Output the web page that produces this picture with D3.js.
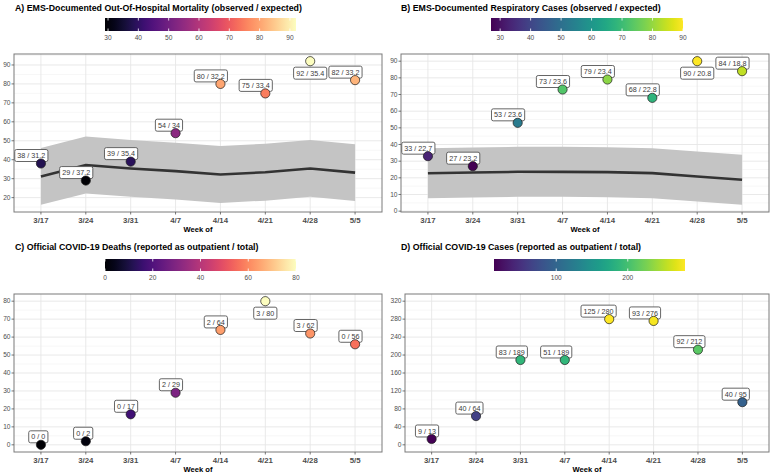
<!DOCTYPE html>
<html><head><meta charset="utf-8">
<script src="https://cdn.jsdelivr.net/npm/d3@7"></script>
<style>
body{margin:0;background:#fff;}
svg{display:block;font-family:"Liberation Sans",Arial,sans-serif;}
</style></head>
<body><svg id="chart" width="772" height="475"></svg>
<script>
const weeks = ["3/17","3/24","3/31","4/7","4/14","4/21","4/28","5/5"];

const mortObserved = [38,29,39,54,80,75,92,82];
const mortExpected = [31.2,37.2,35.4,34,32.2,33.4,35.4,33.2];
const mortLower = [16.2,22.2,20.4,19,17.2,18.4,20.4,18.2];
const mortUpper = [46.2,52.2,50.4,49,47.2,48.4,50.4,48.2];
const mortTicks = [20,30,40,50,60,70,80,90];
const mortLegendTicks = [30,40,50,60,70,80,90];

const respObserved = [33,27,53,73,79,68,90,84];
const respExpected = [22.7,23.2,23.6,23.6,23.4,22.8,20.8,18.8];
const respLower = [7.7,8.2,8.6,8.6,8.4,7.8,5.8,3.8];
const respUpper = [37.7,38.2,38.6,38.6,38.4,37.8,35.8,33.8];
const respTicks = [0,10,20,30,40,50,60,70,80,90];
const respLegendTicks = [30,40,50,60,70,80,90];

const deathsOutpatient = [0,0,0,2,2,3,3,0];
const deathsTotal = [0,2,17,29,64,80,62,56];
const deathsTicks = [0,10,20,30,40,50,60,70,80];
const deathsLegendTicks = [0,20,40,60,80];

const casesOutpatient = [9,40,83,51,125,93,92,40];
const casesTotal = [13,64,189,189,280,276,212,95];
const casesTicks = [0,40,80,120,160,200,240,280,320];
const casesLimits = [0,320];
const casesLegendTicks = [100,200];

const svg = d3.select("#chart");
const defs = svg.append("defs");
let gradId = 0;

function panel(o){
  const g = svg.append("g");
  // title
  g.append("text").attr("x", o.tx).attr("y", o.ty)
    .attr("font-size", 8.8).attr("font-weight", "bold").attr("fill", "#000")
    .text(o.title);

  // colour scale & colourbar
  const cext = d3.extent(o.colorVals);
  const cnorm = d3.scaleLinear().domain(cext).range([0,1]);
  const color = v => o.interp(cnorm(v));
  const id = "grad" + (gradId++);
  const grad = defs.append("linearGradient").attr("id", id);
  d3.range(0, 1.0001, 0.05).forEach(t => grad.append("stop")
    .attr("offset", (t*100)+"%").attr("stop-color", o.interp(t)));
  const cb = o.cb;
  g.append("rect").attr("x", cb.x0).attr("y", cb.y0)
    .attr("width", cb.x1-cb.x0).attr("height", cb.h).attr("fill", `url(#${id})`);
  const cbx = d3.scaleLinear().domain(cext).range([cb.x0, cb.x1]);
  o.legendTicks.forEach(t => {
    const x = cbx(t);
    g.append("line").attr("x1", x).attr("x2", x).attr("y1", cb.y0).attr("y2", cb.y0+2.5)
      .attr("stroke", "#fff").attr("stroke-width", 0.8);
    g.append("line").attr("x1", x).attr("x2", x).attr("y1", cb.y0+cb.h-2.5).attr("y2", cb.y0+cb.h)
      .attr("stroke", "#fff").attr("stroke-width", 0.8);
    g.append("text").attr("x", x).attr("y", cb.y0+cb.h+9)
      .attr("text-anchor", "middle").attr("font-size", 6.6).attr("fill", "#4d4d4d").text(t);
  });

  // scales
  const p = o.plot;
  const x = d3.scalePoint().domain(weeks).range([p.x0, p.x1]).padding(0.6);
  let dext = d3.extent(o.yVals);
  if (o.limits) dext = [Math.min(dext[0], o.limits[0]), Math.max(dext[1], o.limits[1])];
  const pad = (dext[1]-dext[0])*0.05;
  const y = d3.scaleLinear().domain([dext[0]-pad, dext[1]+pad]).range([p.y1, p.y0]);

  const clipId = "clip" + gradId;
  defs.append("clipPath").attr("id", clipId).append("rect")
    .attr("x", p.x0).attr("y", p.y0).attr("width", p.x1-p.x0).attr("height", p.y1-p.y0);

  // grid
  const grid = g.append("g").attr("clip-path", `url(#${clipId})`);
  const step = o.yTicks[1]-o.yTicks[0];
  const minor = [o.yTicks[0]-step/2].concat(o.yTicks.map(t => t+step/2));
  minor.forEach(t => grid.append("line").attr("x1", p.x0).attr("x2", p.x1)
    .attr("y1", y(t)).attr("y2", y(t)).attr("stroke", "#f2f2f2").attr("stroke-width", 0.6));
  o.yTicks.forEach(t => grid.append("line").attr("x1", p.x0).attr("x2", p.x1)
    .attr("y1", y(t)).attr("y2", y(t)).attr("stroke", "#e6e6e6").attr("stroke-width", 0.9));
  weeks.forEach(w => grid.append("line").attr("x1", x(w)).attr("x2", x(w))
    .attr("y1", p.y0).attr("y2", p.y1).attr("stroke", "#e6e6e6").attr("stroke-width", 0.9));

  // ribbon + line
  if (o.lower){
    const area = d3.area().x((d,i)=>x(weeks[i])).y0((d,i)=>y(o.lower[i])).y1((d,i)=>y(o.upper[i]));
    g.append("path").datum(o.lower).attr("d", area).attr("fill", "#c4c4c4");
    const line = d3.line().x((d,i)=>x(weeks[i])).y(d=>y(d));
    g.append("path").datum(o.expected).attr("d", line).attr("fill", "none")
      .attr("stroke", "#333").attr("stroke-width", 2.6);
  }

  // axes
  g.append("rect").attr("x", p.x0).attr("y", p.y0).attr("width", p.x1-p.x0).attr("height", p.y1-p.y0)
    .attr("fill", "none").attr("stroke", "#7a7a7a").attr("stroke-width", 1);
  o.yTicks.forEach(t => {
    g.append("line").attr("x1", p.x0-2.5).attr("x2", p.x0).attr("y1", y(t)).attr("y2", y(t))
      .attr("stroke", "#555").attr("stroke-width", 0.8);
    g.append("text").attr("x", p.x0-3.5).attr("y", y(t)).attr("dy", "0.35em")
      .attr("text-anchor", "end").attr("font-size", 6.6).attr("fill", "#4d4d4d").text(t);
  });
  weeks.forEach(w => {
    g.append("line").attr("x1", x(w)).attr("x2", x(w)).attr("y1", p.y1).attr("y2", p.y1+2.5)
      .attr("stroke", "#555").attr("stroke-width", 0.8);
    g.append("text").attr("x", x(w)).attr("y", p.y1+11).attr("text-anchor", "middle")
      .attr("font-size", 7.8).attr("font-weight", "bold").attr("fill", "#4d4d4d").text(w);
  });
  g.append("text").attr("x", (p.x0+p.x1)/2).attr("y", p.y1+20).attr("text-anchor", "middle")
    .attr("font-size", 7.6).attr("font-weight", "bold").attr("fill", "#000").text("Week of");

  // labels
  const fs = 7.2, bh = 12, padx = 2.6;
  o.yVals.forEach((v,i) => {
    if (i >= weeks.length) return;
  });
  weeks.forEach((w,i) => {
    const cx = x(w), cy = y(o.pointVals[i]);
    const lg = g.append("g");
    const t = lg.append("text").attr("font-size", fs).attr("fill", "#3a3a3a")
      .attr("text-anchor", "middle").text(o.labels[i]);
    const tw = t.node().getComputedTextLength();
    const bw = tw + 2*padx;
    let left = cx + 7 - bw, top = cy - 2 - bh;
    if (top < p.y0) { left = cx - bw/2; top = cy + 6; }
    lg.insert("rect", "text").attr("x", left).attr("y", top).attr("width", bw).attr("height", bh)
      .attr("rx", 1.8).attr("fill", "#fff").attr("stroke", "#555").attr("stroke-width", 0.9);
    t.attr("x", left + bw/2).attr("y", top + bh/2).attr("dy", "0.36em");
  });
  // points
  weeks.forEach((w,i) => {
    g.append("circle").attr("cx", x(w)).attr("cy", y(o.pointVals[i])).attr("r", 4.6)
      .attr("fill", color(o.colorVals[i])).attr("stroke", "#1a1a1a").attr("stroke-width", 0.7);
  });
}

panel({
  title: "A) EMS-Documented Out-Of-Hospital Mortality (observed / expected)", tx: 15, ty: 11,
  cb: {x0:105, x1:296, y0:18, h:13}, legendTicks: mortLegendTicks,
  interp: d3.interpolateMagma, colorVals: mortObserved,
  plot: {x0:14, x1:382, y0:54, y1:212},
  yVals: mortObserved.concat(mortLower, mortUpper), yTicks: mortTicks,
  lower: mortLower, upper: mortUpper, expected: mortExpected,
  pointVals: mortObserved, labels: mortObserved.map((v,i)=>v+" / "+mortExpected[i])
});
panel({
  title: "B) EMS-Documented Respiratory Cases (observed / expected)", tx: 401, ty: 11,
  cb: {x0:491, x1:683, y0:18, h:13}, legendTicks: respLegendTicks,
  interp: d3.interpolateViridis, colorVals: respObserved,
  plot: {x0:401, x1:769, y0:54, y1:212},
  yVals: respObserved.concat(respLower, respUpper), yTicks: respTicks,
  lower: respLower, upper: respUpper, expected: respExpected,
  pointVals: respObserved, labels: respObserved.map((v,i)=>v+" / "+respExpected[i])
});
panel({
  title: "C) Official COVID-19 Deaths (reported as outpatient / total)", tx: 15, ty: 250,
  cb: {x0:105, x1:296, y0:259, h:12}, legendTicks: deathsLegendTicks,
  interp: d3.interpolateMagma, colorVals: deathsTotal,
  plot: {x0:14, x1:382, y0:294, y1:452},
  yVals: deathsTotal, yTicks: deathsTicks,
  pointVals: deathsTotal, labels: deathsTotal.map((v,i)=>deathsOutpatient[i]+" / "+v)
});
panel({
  title: "D) Official COVID-19 Cases (reported as outpatient / total)", tx: 401, ty: 250,
  cb: {x0:494, x1:685, y0:259, h:12}, legendTicks: casesLegendTicks,
  interp: d3.interpolateViridis, colorVals: casesTotal,
  plot: {x0:405, x1:769, y0:294, y1:452},
  yVals: casesTotal, yTicks: casesTicks, limits: casesLimits,
  pointVals: casesTotal, labels: casesTotal.map((v,i)=>casesOutpatient[i]+" / "+v)
});
</script></body></html>
